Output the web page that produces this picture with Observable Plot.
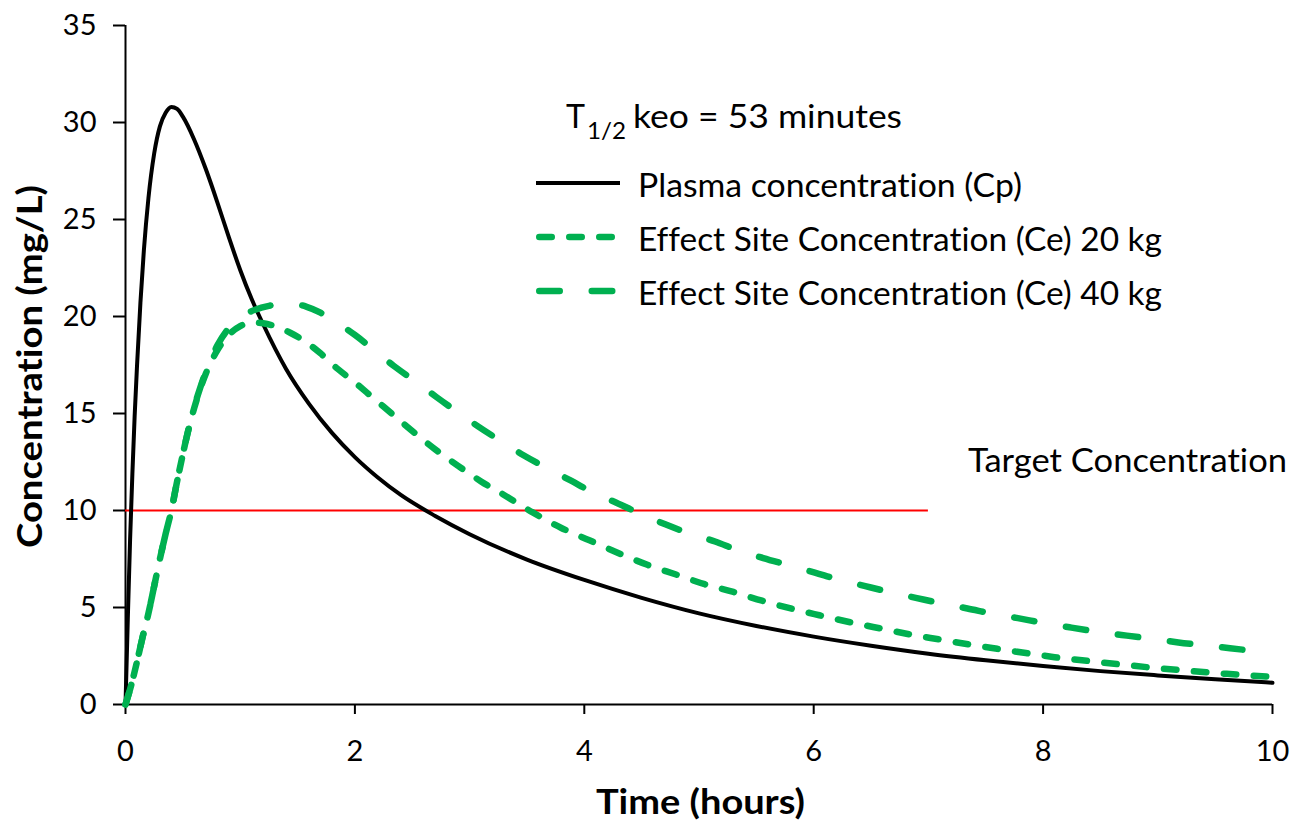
<!DOCTYPE html>
<html>
<head>
<meta charset="utf-8">
<script src="https://cdn.jsdelivr.net/npm/d3@7"></script>
<script src="https://cdn.jsdelivr.net/npm/@observablehq/plot@0.6"></script>
<style>
  html, body { margin: 0; padding: 0; background: #fff; }
  #chart { width: 1291px; height: 821px; }
</style>
</head>
<body>
<div id="chart"></div>
<script>
// ---- Data ----
const plasmaTime = [0,0.02,0.04,0.06,0.08,0.1,0.13,0.16,0.2,0.25,0.3,0.35,0.4,0.45,0.5,0.6,0.7,0.8,0.9,1.0,1.1,1.2,1.4,1.6,1.8,2.0,2.2,2.4,2.7,3.0,3.5,4.0,4.5,5,5.5,6,6.5,7,7.5,8,8.5,9,9.5,10];
const plasmaConc = [0,4.4,8.5,11.9,14.9,17.4,20.7,23.4,26.1,28.4,29.8,30.5,30.8,30.7,30.3,29.1,27.6,25.9,24.1,22.4,20.9,19.6,17.3,15.5,14.0,12.75,11.7,10.8,9.72,8.78,7.47,6.42,5.5,4.7,4.05,3.5,3.03,2.62,2.28,1.98,1.72,1.5,1.3,1.12];

const ce20Time = [0,0.05,0.1,0.15,0.2,0.25,0.3,0.35,0.4,0.45,0.5,0.55,0.6,0.65,0.7,0.8,0.9,1.0,1.1,1.2,1.33,1.44,1.57,1.7,1.85,2.0,2.15,2.3,2.5,2.7,2.9,3.1,3.3,3.55,3.8,4.05,4.3,4.55,4.8,5.05,5.3,5.55,5.8,6.05,6.35,6.6,6.85,7.1,7.35,7.6,7.85,8.1,8.4,8.7,9.0,9.3,9.6,10];
const ce20Conc = [0,1.0,2.2,3.5,4.7,6.1,7.5,8.8,10.0,11.5,12.9,14.2,15.3,16.25,17.05,18.25,19.05,19.5,19.7,19.65,19.45,19.15,18.7,18.1,17.3,16.6,15.85,15.1,14.1,13.15,12.3,11.5,10.8,9.9,9.1,8.45,7.8,7.2,6.7,6.2,5.8,5.35,4.95,4.6,4.2,3.9,3.6,3.35,3.1,2.87,2.65,2.44,2.24,2.05,1.87,1.72,1.58,1.42];

const ce40Time = [0,0.05,0.1,0.15,0.2,0.25,0.3,0.35,0.4,0.45,0.5,0.55,0.6,0.65,0.7,0.8,0.9,1.0,1.13,1.25,1.35,1.45,1.58,1.7,1.8,2.0,2.16,2.34,2.54,2.71,2.9,3.07,3.28,3.47,3.67,3.88,4.07,4.28,4.48,4.7,4.9,5.14,5.34,5.56,5.77,6.01,6.21,6.45,6.66,6.89,7.12,7.34,7.56,7.78,8.01,8.23,8.51,8.73,8.96,9.18,9.41,9.63,9.86,10];
const ce40Conc = [0,1.0,2.2,3.5,4.7,6.1,7.5,8.8,10.0,11.5,12.9,14.2,15.35,16.3,17.15,18.5,19.4,19.95,20.35,20.55,20.63,20.65,20.5,20.2,19.85,19.05,18.3,17.45,16.6,15.85,15.05,14.35,13.55,12.85,12.2,11.55,10.95,10.4,9.85,9.3,8.85,8.4,7.95,7.55,7.2,6.8,6.45,6.1,5.8,5.5,5.2,4.95,4.68,4.45,4.2,3.98,3.72,3.55,3.38,3.2,3.05,2.9,2.75,2.66];

const targetValue = 10;
const targetStart = 0;
const targetEnd = 7;

const xTicks = [0,2,4,6,8,10];
const yTicks = [0,5,10,15,20,25,30,35];

const seriesNames = ["Plasma concentration (Cp)", "Effect Site Concentration (Ce) 20 kg", "Effect Site Concentration (Ce) 40 kg"];
const annotationText = "Target Concentration";
const xTitle = "Time (hours)";
const yTitle = "Concentration (mg/L)";

// ---- Build tables ----
const toRows = (ts, cs) => ts.map((t, i) => ({t, c: cs[i]}));
const plasma = toRows(plasmaTime, plasmaConc);
const ce20 = toRows(ce20Time, ce20Conc);
const ce40 = toRows(ce40Time, ce40Conc);
const target = [{y: targetValue, x1: targetStart, x2: targetEnd}];

const GREEN = "#00b050";
const FONT = "Lato, 'Open Sans', sans-serif";

const svg = Plot.plot({
  width: 1291,
  height: 821,
  marginLeft: 125,
  marginRight: 19,
  marginTop: 25,
  marginBottom: 117,
  style: {fontFamily: FONT, color: "black", background: "white", overflow: "visible", fontVariantLigatures: "none"},
  x: {domain: [0, 10]},
  y: {domain: [0, 35]},
  marks: [
    Plot.axisY(yTicks, {tickSize: 12, tickPadding: 17, strokeWidth: 2, fontSize: 29, tickFormat: "d", label: null}),
    Plot.axisX(xTicks, {tickSize: 10, tickPadding: 26, strokeWidth: 2, fontSize: 29, tickFormat: "d", label: null}),
    Plot.ruleX([0], {stroke: "black", strokeWidth: 2}),
    Plot.ruleY([0], {stroke: "black", strokeWidth: 2}),
    Plot.ruleY(target, {y: "y", x1: "x1", x2: "x2", stroke: "#ff0000", strokeWidth: 2}),
    Plot.line(plasma, {x: "t", y: "c", stroke: "black", strokeWidth: 4, curve: "monotone-x"}),
    Plot.line(ce20, {x: "t", y: "c", stroke: GREEN, strokeWidth: 6.5, strokeDasharray: "12.5,17.5", strokeLinecap: "round", curve: "monotone-x"}),
    Plot.line(ce40, {x: "t", y: "c", stroke: GREEN, strokeWidth: 6.5, strokeDasharray: "20.5,32", strokeLinecap: "round", curve: "monotone-x"})
  ]
});

document.getElementById("chart").appendChild(svg);

// ---- Titles, legend and annotations ----
const g = d3.select(svg).append("g")
  .attr("font-family", FONT)
  .attr("fill", "black")
  .attr("text-anchor", "start")
  .style("font-variant-ligatures", "none")
  .style("font-feature-settings", "'liga' 0, 'clig' 0, 'dlig' 0");

function txt(x, y, s, size, len, opts = {}) {
  const t = g.append("text").attr("x", x).attr("y", y).attr("font-size", size)
    .attr("text-anchor", opts.anchor || "start")
    .style("font-variant-ligatures", "none")
    .text(s);
  if (len) t.attr("textLength", len).attr("lengthAdjust", "spacingAndGlyphs");
  if (opts.weight) t.attr("font-weight", opts.weight);
  if (opts.transform) t.attr("transform", opts.transform);
  return t;
}

// Axis titles
txt(0, 0, yTitle, 35, 363, {anchor: "middle", weight: "bold", transform: "translate(42,366.5) rotate(-90)"});
txt(700.5, 814, xTitle, 35, 209, {anchor: "middle", weight: "bold"});

// T1/2 keo annotation
txt(566, 128, "T", 33, 19);
txt(587, 139, "1/2", 23, 39);
txt(633, 128, "keo = 53 minutes", 33, 269);

// Legend
const rows = [197, 251, 305];
const legendStyles = [
  {stroke: "black", width: 4, dash: null, cap: "butt", x1: 536, x2: 620},
  {stroke: GREEN, width: 6.5, dash: "12.5,17.5", cap: "round", x1: 539.25, x2: 617},
  {stroke: GREEN, width: 6.5, dash: "20.5,32", cap: "round", x1: 539.25, x2: 617}
];
const lens = [384, 524, 524];
seriesNames.forEach((name, i) => {
  const s = legendStyles[i];
  const ln = g.append("line")
    .attr("x1", s.x1).attr("x2", s.x2)
    .attr("y1", rows[i] - 14).attr("y2", rows[i] - 14)
    .attr("stroke", s.stroke).attr("stroke-width", s.width)
    .attr("stroke-linecap", s.cap);
  if (s.dash) ln.attr("stroke-dasharray", s.dash);
  txt(638, rows[i], name, 33, lens[i]);
});

// Target concentration label
txt(968, 472, annotationText, 33, 319);
</script>
</body>
</html>
